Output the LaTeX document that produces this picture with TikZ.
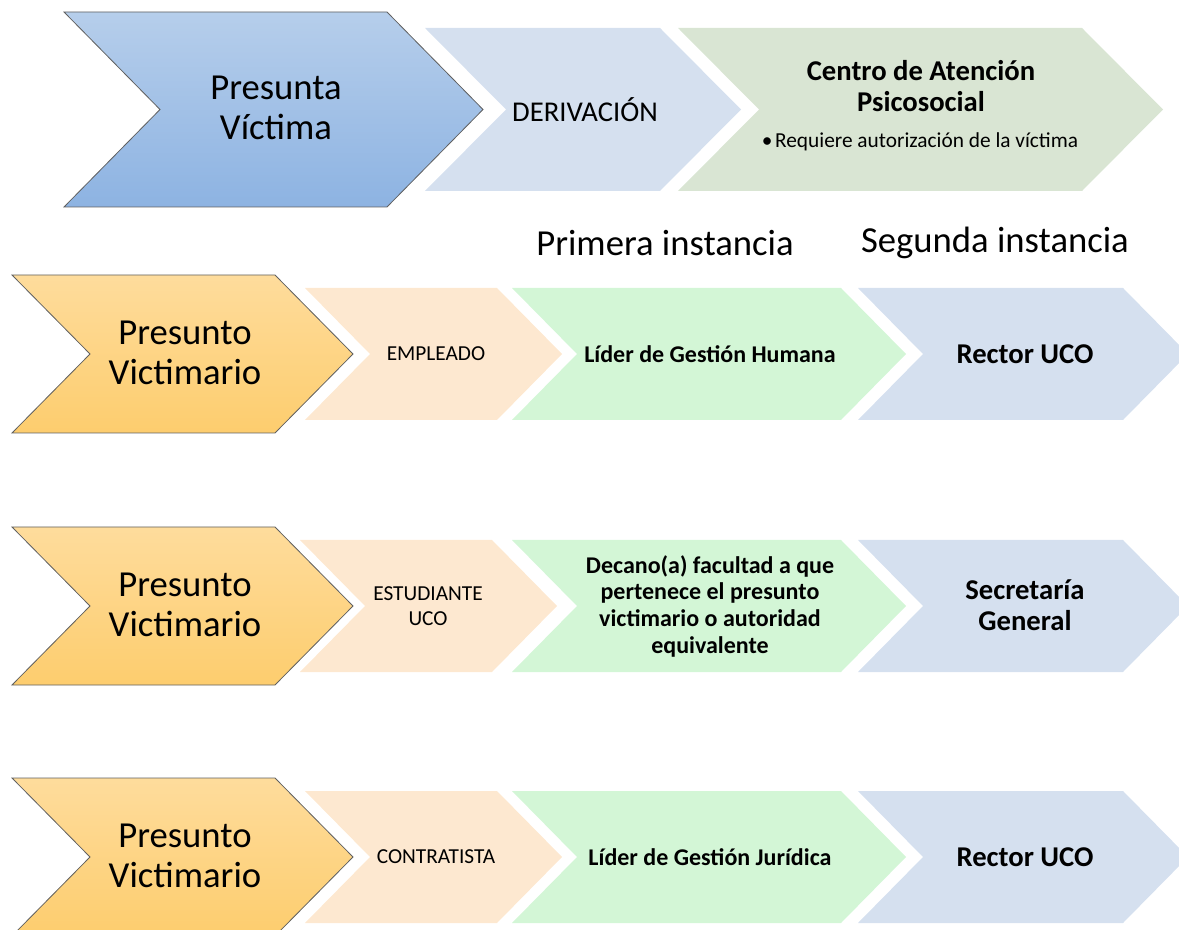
\documentclass[tikz,border=0pt]{standalone}
\usepackage{fontspec}
\setmainfont{Carlito}

\definecolor{azulA}{HTML}{B6CEEB}	% Presunta victima (arriba)
\definecolor{azulB}{HTML}{8DB3E2}	% Presunta victima (abajo)
\definecolor{azulC}{HTML}{D5E0EF}	% Derivacion / segunda instancia
\definecolor{verdeA}{HTML}{D9E5D3}	% Centro de atencion
\definecolor{verdeB}{HTML}{D3F6D6}	% Primera instancia
\definecolor{durazno}{HTML}{FDE8D0}	% Tipo de victimario
\definecolor{naranjaA}{HTML}{FEDC9C}	% Presunto victimario (arriba)
\definecolor{naranjaB}{HTML}{FDCD6E}	% Presunto victimario (abajo)

\newcommand{\chevron}[6]{% estilo, izq, der, arriba, abajo, punta
	\path[#1] (#2,#4) -- (#3,#4) -- ({#3+#6},{(#4+#5)/2}) -- (#3,#5) -- (#2,#5) -- ({#2+#6},{(#4+#5)/2}) -- cycle;}
\newcommand{\fgrande}{\fontsize{27.5}{30}\selectfont}
\newcommand{\fmedia}{\fontsize{21.5}{23}\selectfont}
\newcommand{\fnegra}{\fontsize{18}{20}\selectfont}
\newcommand{\fchica}{\fontsize{16}{19}\selectfont}

\tikzset{
	borde/.style={draw=gray!75!black, line width=0.6pt},
	texto/.style={align=center, inner sep=0pt},
}

\begin{document}
\begin{tikzpicture}[x=0.75pt, y=-0.75pt]
	\useasboundingbox (0,0) rectangle (1179,930);

	% Fila superior
	\chevron{fill=azulC}{425}{660}{28}{191}{81}								% Derivacion
	\chevron{fill=verdeA}{678}{1082}{28}{191}{81}							% Centro
	\chevron{borde, top color=azulA, bottom color=azulB}{64}{387}{12}{207}{96}	% Presunta victima

	\node[texto, font=\fgrande] (vict) at (276,108) {Presunta\\Víctima};
	\node[texto, font=\fmedia] (deriv) at (585,110) {DERIVACIÓN};
	\node[texto, font=\fmedia\bfseries] (centro) at (921,86) {Centro de Atención\\Psicosocial};
	\node[texto, font=\fchica] (req) at (920,142) {\textbullet\hspace{2pt}Requiere autorización de la víctima};

	% Instancias
	\node[texto, font=\fgrande] (prim) at (665,243) {Primera instancia};
	\node[texto, font=\fgrande] (seg) at (995,243) {Segunda instancia};

	% Filas de victimario
	\foreach \y/\d in {275/305, 527/300, 778/305} {
		\chevron{fill=durazno}{\d}{\d+192}{\y+13}{\y+145}{65}
		\chevron{fill=verdeB}{512}{841}{\y+13}{\y+145}{65}
		\chevron{fill=azulC}{858}{1123}{\y+13}{\y+145}{65}
		\chevron{borde, top color=naranjaA, bottom color=naranjaB}{12}{275}{\y}{\y+158}{78}
	}

	% Empleado
	\node[texto, font=\fgrande] (vict1) at (185,353) {Presunto\\Victimario};
	\node[texto, font=\fchica] (emp) at (436,354) {EMPLEADO};
	\node[texto, font=\fnegra\bfseries] (lider1) at (710,354) {Líder de Gestión Humana};
	\node[texto, font=\fmedia\bfseries] (rector1) at (1025,354) {Rector UCO};

	% Estudiante
	\node[texto, font=\fgrande] (vict2) at (185,605) {Presunto\\Victimario};
	\node[texto, font=\fchica] (est) at (428,606) {ESTUDIANTE\\UCO};
	\node[texto, font=\fnegra\bfseries] (decano) at (710,606) {Decano(a) facultad a que\\pertenece el presunto\\victimario o autoridad\\equivalente};
	\node[texto, font=\fmedia\bfseries] (secre) at (1025,605) {Secretaría\\General};

	% Contratista
	\node[texto, font=\fgrande] (vict3) at (185,856) {Presunto\\Victimario};
	\node[texto, font=\fchica] (contr) at (436,857) {CONTRATISTA};
	\node[texto, font=\fnegra\bfseries] (lider2) at (710,857) {Líder de Gestión Jurídica};
	\node[texto, font=\fmedia\bfseries] (rector2) at (1025,857) {Rector UCO};
\end{tikzpicture}
\end{document}
